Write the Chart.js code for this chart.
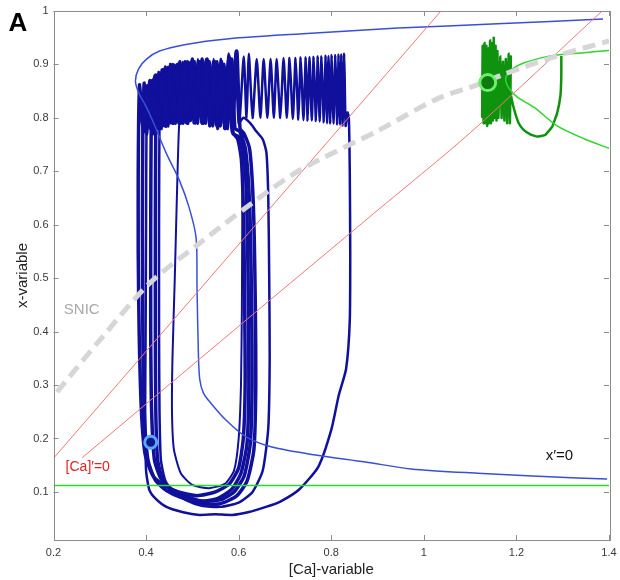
<!DOCTYPE html>
<html>
<head>
<meta charset="utf-8">
<script src="https://cdn.jsdelivr.net/npm/chart.js@4/dist/chart.umd.min.js"></script>
<style>
html,body{margin:0;padding:0;background:#fff;}
canvas{display:block;}
</style>
</head>
<body>
<canvas id="c" width="620" height="580" style="width:620px;height:580px"></canvas>
<script>
// ---------- axis ticks ----------
const xTicks = [0.2, 0.4, 0.6, 0.8, 1.0, 1.2, 1.4];
const yTicks = [0.1, 0.2, 0.3, 0.4, 0.5, 0.6, 0.7, 0.8, 0.9, 1.0];

// ---------- nullclines ----------
const xNullBlue = [[1.387,0.985],[1.159,0.976],[0.944,0.968],[0.730,0.957],[0.579,0.948],[0.483,0.937],[0.429,0.925],[0.401,0.910],[0.384,0.892],[0.377,0.869],[0.384,0.847],[0.399,0.823],[0.414,0.795],[0.444,0.733],[0.472,0.683],[0.493,0.632],[0.508,0.576],[0.510,0.483],[0.513,0.359],[0.516,0.31],[0.524,0.285],[0.540,0.266],[0.573,0.234],[0.616,0.203],[0.672,0.184],[0.766,0.169],[0.874,0.156],[0.972,0.143],[1.116,0.135],[1.331,0.126],[1.396,0.124]];
const xNullGreenFlat = [[0.2,0.112],[1.4,0.112]];
const xNullGreenFold = [[1.4,0.743],[1.346,0.761],[1.288,0.785],[1.239,0.819],[1.202,0.839],[1.185,0.854],[1.177,0.869],[1.179,0.880],[1.192,0.892],[1.217,0.903],[1.273,0.916],[1.346,0.922],[1.4,0.926]];
const caNullA = [[0.2,0.163],[1.037,1.0]];
const caNullB = [[0.262,0.164],[0.60,0.41],[0.90,0.627],[1.10,0.772],[1.385,1.0]];
const snicCurve = [[0.2075,0.287],[0.300,0.384],[0.407,0.490],[0.515,0.565],[0.622,0.636],[0.730,0.701],[0.901,0.776],[1.030,0.836],[1.123,0.864],[1.174,0.882],[1.288,0.916],[1.400,0.944]];

// ---------- trajectories (blue: bursting) ----------
const loopA = [[0.383,0.70],[0.384,0.80],[0.386,0.862],[0.392,0.79],[0.396,0.775],[0.402,0.86],[0.41,0.78],[0.418,0.875],[0.426,0.78],[0.434,0.885],[0.442,0.785],[0.45,0.89],[0.458,0.79],[0.466,0.895],[0.474,0.79],[0.482,0.895],[0.49,0.79],[0.498,0.9],[0.506,0.79],[0.514,0.9],[0.522,0.79],[0.53,0.9],[0.538,0.785],[0.546,0.9],[0.554,0.78],[0.562,0.895],[0.57,0.78],[0.578,0.89],[0.586,0.775],[0.598,0.76],[0.606,0.72],[0.611,0.6],[0.613,0.45],[0.614,0.3],[0.61,0.2],[0.6,0.145],[0.58,0.115],[0.55,0.1],[0.51,0.093],[0.47,0.1],[0.44,0.112],[0.415,0.13],[0.398,0.17],[0.39,0.25],[0.385,0.4],[0.383,0.55],[0.383,0.70]];
const loopB = [[0.392,0.6],[0.393,0.78],[0.396,0.865],[0.402,0.77],[0.408,0.87],[0.414,0.77],[0.421,0.88],[0.428,0.78],[0.436,0.89],[0.443,0.785],[0.452,0.895],[0.459,0.79],[0.468,0.9],[0.475,0.79],[0.484,0.9],[0.491,0.79],[0.50,0.905],[0.507,0.795],[0.516,0.905],[0.523,0.79],[0.532,0.905],[0.539,0.79],[0.548,0.905],[0.555,0.785],[0.564,0.9],[0.571,0.78],[0.58,0.9],[0.588,0.77],[0.6,0.765],[0.612,0.73],[0.618,0.62],[0.621,0.45],[0.622,0.3],[0.618,0.19],[0.605,0.135],[0.585,0.105],[0.555,0.088],[0.515,0.082],[0.475,0.09],[0.445,0.102],[0.42,0.122],[0.404,0.16],[0.396,0.25],[0.393,0.4],[0.392,0.6]];
const loopC = [[0.41,0.6],[0.411,0.78],[0.414,0.87],[0.42,0.775],[0.427,0.885],[0.433,0.78],[0.441,0.895],[0.448,0.785],[0.457,0.9],[0.464,0.79],[0.473,0.905],[0.48,0.79],[0.489,0.905],[0.496,0.795],[0.505,0.905],[0.512,0.79],[0.521,0.91],[0.528,0.79],[0.537,0.905],[0.544,0.785],[0.553,0.905],[0.56,0.785],[0.569,0.9],[0.576,0.78],[0.585,0.91],[0.592,0.78],[0.602,0.775],[0.615,0.74],[0.624,0.63],[0.628,0.45],[0.629,0.3],[0.625,0.19],[0.612,0.13],[0.59,0.1],[0.56,0.085],[0.52,0.083],[0.485,0.092],[0.455,0.105],[0.432,0.125],[0.418,0.16],[0.412,0.25],[0.41,0.4],[0.41,0.6]];
const loopD = [[0.42,0.6],[0.421,0.8],[0.424,0.875],[0.43,0.78],[0.437,0.89],[0.444,0.785],[0.452,0.9],[0.459,0.79],[0.468,0.9],[0.475,0.795],[0.484,0.905],[0.491,0.795],[0.5,0.91],[0.507,0.795],[0.516,0.905],[0.523,0.79],[0.532,0.91],[0.539,0.79],[0.548,0.905],[0.555,0.79],[0.564,0.905],[0.571,0.785],[0.58,0.915],[0.587,0.78],[0.596,0.925],[0.603,0.78],[0.612,0.77],[0.624,0.74],[0.632,0.63],[0.636,0.45],[0.637,0.3],[0.633,0.18],[0.618,0.12],[0.595,0.092],[0.56,0.078],[0.52,0.078],[0.485,0.088],[0.458,0.1],[0.437,0.12],[0.425,0.16],[0.421,0.25],[0.42,0.4],[0.42,0.6]];
const loopE = [[0.428,0.6],[0.429,0.8],[0.432,0.87],[0.438,0.785],[0.446,0.895],[0.453,0.79],[0.462,0.9],[0.47,0.79],[0.479,0.905],[0.486,0.79],[0.495,0.905],[0.503,0.79],[0.512,0.91],[0.52,0.79],[0.529,0.905],[0.537,0.785],[0.546,0.91],[0.553,0.785],[0.562,0.91],[0.569,0.78],[0.578,0.92],[0.585,0.785],[0.593,0.925],[0.6,0.79],[0.61,0.8],[0.625,0.79],[0.638,0.775],[0.652,0.76],[0.66,0.735],[0.664,0.65],[0.666,0.5],[0.667,0.35],[0.664,0.22],[0.652,0.14],[0.63,0.1],[0.6,0.08],[0.56,0.072],[0.52,0.074],[0.485,0.085],[0.46,0.1],[0.442,0.12],[0.432,0.16],[0.429,0.25],[0.428,0.4],[0.428,0.6]];
const loopInner = [[0.49,0.8],[0.483,0.795],[0.478,0.81],[0.472,0.795],[0.468,0.7],[0.462,0.5],[0.457,0.35],[0.456,0.25],[0.46,0.18],[0.475,0.135],[0.5,0.113],[0.536,0.107],[0.57,0.115],[0.59,0.14],[0.6,0.2],[0.605,0.3],[0.607,0.45],[0.608,0.65],[0.61,0.77]];
const loopBig = [[0.40,0.6],[0.401,0.8],[0.404,0.86],[0.41,0.78],[0.418,0.88],[0.425,0.78],[0.433,0.89],[0.44,0.785],[0.449,0.895],[0.456,0.79],[0.465,0.9],[0.472,0.79],[0.481,0.9],[0.488,0.79],[0.497,0.905],[0.504,0.795],[0.513,0.905],[0.52,0.79],[0.529,0.91],[0.536,0.79],[0.545,0.905],[0.552,0.785],[0.561,0.91],[0.568,0.79],[0.577,0.915],[0.584,0.795],[0.594,0.925],[0.602,0.8],[0.611,0.915],[0.617,0.8],[0.622,0.92],[0.63,0.8],[0.639,0.91],[0.647,0.8],[0.654,0.91],[0.662,0.8],[0.669,0.91],[0.676,0.8],[0.682,0.91],[0.69,0.8],[0.697,0.912],[0.704,0.8],[0.71,0.912],[0.717,0.798],[0.723,0.912],[0.729,0.797],[0.734,0.913],[0.74,0.796],[0.745,0.913],[0.749,0.795],[0.753,0.914],[0.758,0.795],[0.762,0.914],[0.767,0.794],[0.771,0.915],[0.775,0.793],[0.779,0.915],[0.784,0.792],[0.788,0.916],[0.791,0.79],[0.794,0.916],[0.798,0.79],[0.801,0.917],[0.805,0.789],[0.809,0.917],[0.813,0.788],[0.816,0.918],[0.819,0.787],[0.822,0.918],[0.825,0.786],[0.828,0.92],[0.831,0.785],[0.835,0.81],[0.838,0.8],[0.84,0.7],[0.841,0.55],[0.84,0.42],[0.832,0.33],[0.816,0.28],[0.8,0.216],[0.772,0.147],[0.73,0.104],[0.69,0.082],[0.659,0.072],[0.62,0.062],[0.586,0.057],[0.55,0.058],[0.515,0.057],[0.48,0.062],[0.444,0.072],[0.42,0.088],[0.407,0.104],[0.4,0.14],[0.398,0.25],[0.399,0.4],[0.40,0.6]];

// ---------- trajectory (green) ----------
const greenTraj = [[1.126,0.80],[1.127,0.935],[1.129,0.79],[1.131,0.94],[1.133,0.79],[1.135,0.935],[1.137,0.785],[1.139,0.93],[1.141,0.79],[1.143,0.945],[1.145,0.79],[1.147,0.94],[1.149,0.795],[1.151,0.95],[1.153,0.8],[1.155,0.935],[1.157,0.795],[1.159,0.925],[1.161,0.80],[1.165,0.915],[1.168,0.8],[1.171,0.905],[1.174,0.795],[1.177,0.91],[1.18,0.79],[1.183,0.92],[1.186,0.79],[1.188,0.915],[1.187,0.85],[1.191,0.83],[1.197,0.81],[1.205,0.79],[1.215,0.778],[1.23,0.769],[1.245,0.765],[1.262,0.768],[1.277,0.783],[1.288,0.809],[1.295,0.841],[1.297,0.879],[1.297,0.916]];

// ---------- marked states ----------
const blueState = [[0.41,0.193]];
const greenState = [[1.138,0.866]];

const toPts = a => a.map(p => ({x: p[0], y: p[1]}));
function line(data, color, width, order, extra) {
  return Object.assign({data: toPts(data), showLine: true, borderColor: color, borderWidth: width,
    pointRadius: 0, fill: false, tension: 0.2, order: order}, extra || {});
}

const NAVY = '#10109c';
const datasets = [
  {data: toPts(blueState), pointRadius: 6, pointBorderWidth: 3, pointBackgroundColor: '#0e1a8a', pointBorderColor: '#5aa8ff', showLine: false, order: 0},
  {data: toPts(greenState), pointRadius: 8, pointBorderWidth: 3, pointBackgroundColor: '#0c7a0c', pointBorderColor: '#6cf06c', showLine: false, order: 0},
  line(snicCurve, '#d6d6d6', 5, 1, {borderDash: [13, 7], tension: 0.3}),
  line(caNullA, '#ec7a7a', 1, 2, {tension: 0}),
  line(caNullB, '#ec7a7a', 1, 2, {tension: 0.3}),
  line(xNullGreenFlat, '#27dd27', 1.5, 3, {tension: 0}),
  line(xNullGreenFold, '#2fd42f', 1.5, 3, {tension: 0.3}),
  line(xNullBlue, '#3a4fd8', 1.5, 4, {tension: 0.3}),
  line(greenTraj, '#0f930f', 2.5, 5, {tension: 0.1}),
  line(loopA, NAVY, 3.5, 6),
  line(loopB, NAVY, 3.5, 6),
  line(loopC, NAVY, 3.5, 6),
  line(loopD, NAVY, 3.5, 6),
  line(loopE, NAVY, 2.5, 6),
  line(loopInner, NAVY, 2, 6),
  line(loopBig, NAVY, 2.5, 6)
];

const FONT = "'Liberation Sans', Arial, Helvetica, sans-serif";

const framePlugin = {
  id: 'frame',
  afterDraw(chart) {
    const ctx = chart.ctx, a = chart.chartArea;
    const xs = chart.scales.x, ys = chart.scales.y;
    ctx.save();
    ctx.strokeStyle = '#8c8c8c';
    ctx.lineWidth = 1;
    ctx.strokeRect(Math.round(a.left) + 0.5, Math.round(a.top) + 0.5, Math.round(a.right - a.left), Math.round(a.bottom - a.top));
    ctx.beginPath();
    const L = 5;
    xTicks.forEach(v => {
      const px = Math.round(xs.getPixelForValue(v)) + 0.5;
      ctx.moveTo(px, a.bottom); ctx.lineTo(px, a.bottom - L);
      ctx.moveTo(px, a.top); ctx.lineTo(px, a.top + L);
    });
    yTicks.forEach(v => {
      const py = Math.round(ys.getPixelForValue(v)) + 0.5;
      ctx.moveTo(a.left, py); ctx.lineTo(a.left + L, py);
      ctx.moveTo(a.right, py); ctx.lineTo(a.right - L, py);
    });
    ctx.stroke();
    // annotations
    ctx.textAlign = 'center';
    ctx.textBaseline = 'middle';
    ctx.fillStyle = '#a8a8a8';
    ctx.font = '15px ' + FONT;
    ctx.fillText('SNIC', xs.getPixelForValue(0.261), ys.getPixelForValue(0.44));
    ctx.fillStyle = '#e32222';
    ctx.font = '14px ' + FONT;
    ctx.fillText('[Ca]\u2032=0', xs.getPixelForValue(0.274), ys.getPixelForValue(0.147));
    ctx.fillStyle = '#111';
    ctx.font = '15px ' + FONT;
    ctx.fillText('x\u2032=0', xs.getPixelForValue(1.293), ys.getPixelForValue(0.167));
    ctx.font = 'bold 26px ' + FONT;
    ctx.fillStyle = '#000';
    ctx.fillText('A', 18, 24);
    ctx.restore();
  }
};

new Chart(document.getElementById('c'), {
  type: 'scatter',
  data: {datasets},
  options: {
    responsive: false,
    animation: false,
    events: [],
    layout: {padding: {top: 10, right: 0, left: 0, bottom: 0}},
    plugins: {legend: {display: false}, tooltip: {enabled: false}},
    scales: {
      x: {
        type: 'linear', min: 0.2, max: 1.4,
        afterBuildTicks: s => { s.ticks = xTicks.map(v => ({value: v})); },
        ticks: {color: '#3a3a3a', font: {size: 11, family: FONT}, padding: 6, maxRotation: 0,
          callback: v => String(Math.round(v * 10) / 10)},
        grid: {display: false, drawTicks: false},
        border: {display: false},
        title: {display: true, text: '[Ca]-variable', color: '#222', font: {size: 15, family: FONT}, padding: {top: 0, bottom: 1}},
        afterFit: s => { s.height = 40; s.paddingRight = 8; s.paddingLeft = 0; }
      },
      y: {
        type: 'linear', min: 0.01, max: 1,
        afterBuildTicks: s => { s.ticks = yTicks.map(v => ({value: v})); },
        ticks: {color: '#3a3a3a', font: {size: 11, family: FONT}, padding: 5,
          callback: v => String(Math.round(v * 10) / 10)},
        grid: {display: false, drawTicks: false},
        border: {display: false},
        title: {display: true, text: 'x-variable', color: '#222', font: {size: 15, family: FONT}, padding: {top: 14, bottom: 0}},
        afterFit: s => { s.width = 53.5; s.paddingTop = 0; s.paddingBottom = 0; }
      }
    }
  },
  plugins: [framePlugin]
});
</script>
</body>
</html>
